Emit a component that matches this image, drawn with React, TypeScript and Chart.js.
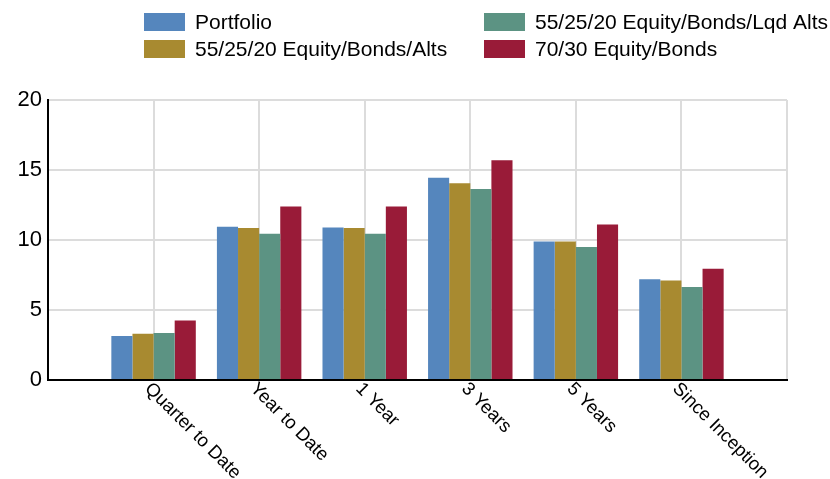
import React, { useEffect, useRef } from "react";
import { Chart, registerables } from "chart.js";

Chart.register(...registerables);

const categories = ["Quarter to Date", "Year to Date", "1 Year", "3 Years", "5 Years", "Since Inception"];
const seriesNames = [
  "Portfolio",
  "55/25/20 Equity/Bonds/Alts",
  "55/25/20 Equity/Bonds/Lqd Alts",
  "70/30 Equity/Bonds",
];
const portfolio = [3.15, 10.95, 10.9, 14.45, 9.9, 7.2];
const equityBondsAlts = [3.3, 10.85, 10.85, 14.05, 9.9, 7.1];
const equityBondsLqdAlts = [3.35, 10.45, 10.45, 13.65, 9.5, 6.65];
const equityBonds7030 = [4.25, 12.4, 12.4, 15.7, 11.1, 7.95];
const yTicks = [0, 5, 10, 15, 20];

const colors = ["#5586BD", "#A88A30", "#5C9383", "#991B38"];
const FONT = "'Liberation Sans', Arial, sans-serif";

const pad = (arr: number[]) => [null, ...arr, null];

const legendPlugin = {
  id: "gridLegend",
  afterDraw(chart: any) {
    const ctx = chart.ctx;
    const cols = [144, 484];
    const rows = [13, 40];
    const boxW = 41;
    const boxH = 18;
    ctx.save();
    ctx.font = `21px ${FONT}`;
    ctx.textBaseline = "middle";
    ctx.textAlign = "left";
    chart.data.datasets.forEach((ds: any, i: number) => {
      const col = Math.floor(i / 2);
      const row = i % 2;
      const x = cols[col];
      const y = rows[row];
      ctx.fillStyle = ds.backgroundColor;
      ctx.fillRect(x, y, boxW, boxH);
      ctx.fillStyle = "#000";
      ctx.fillText(ds.label, x + boxW + 10, y + boxH / 2 + 1);
    });
    ctx.restore();
  },
};

const rotatedLabels = {
  id: "rotatedLabels",
  afterDraw(chart: any) {
    const ctx = chart.ctx;
    const xs = chart.scales.x;
    const bottom = chart.chartArea.bottom;
    ctx.save();
    ctx.font = `18.5px ${FONT}`;
    ctx.fillStyle = "#000";
    ctx.textAlign = "left";
    ctx.textBaseline = "middle";
    (chart.data.labels as string[]).forEach((lab, i) => {
      if (!lab) return;
      const x = xs.getPixelForTick(i);
      ctx.save();
      ctx.translate(x - 6, bottom + 6);
      ctx.rotate(Math.PI / 4);
      ctx.fillText(lab, 0, 0);
      ctx.restore();
    });
    ctx.restore();
  },
};

export default function App() {
  const ref = useRef<HTMLCanvasElement>(null);
  useEffect(() => {
    if (!ref.current) return;
    const values = [portfolio, equityBondsAlts, equityBondsLqdAlts, equityBonds7030];
    const chart = new Chart(ref.current, {
      type: "bar",
      data: {
        labels: ["", ...categories, ""],
        datasets: values.map((v, i) => ({
          label: seriesNames[i],
          data: pad(v),
          backgroundColor: colors[i],
          borderWidth: 0,
          categoryPercentage: 0.8,
          barPercentage: 1.0,
        })),
      },
      options: {
        animation: false,
        responsive: false,
        devicePixelRatio: 1,
        layout: { padding: { top: 100, right: 43, left: 0, bottom: 0 } },
        plugins: { legend: { display: false }, tooltip: { enabled: false } },
        scales: {
          x: {
            type: "category",
            offset: false,
            grid: { color: "#dcdcdc", lineWidth: 2, drawTicks: false, offset: false },
            border: { color: "#000", width: 2 },
            ticks: { display: false },
            afterFit: (s: any) => {
              s.height = 99;
            },
          },
          y: {
            min: 0,
            max: 20,
            afterBuildTicks: (s: any) => {
              s.ticks = yTicks.map((v) => ({ value: v }));
            },
            grid: { color: "#dcdcdc", lineWidth: 2, drawTicks: false },
            border: { color: "#000", width: 2 },
            ticks: {
              color: "#000",
              font: { family: FONT, size: 22 },
              padding: 6,
            },
            afterFit: (s: any) => {
              s.width = 48;
            },
          },
        },
      },
      plugins: [legendPlugin, rotatedLabels],
    });
    return () => chart.destroy();
  }, []);
  return (
    <div style={{ position: "absolute", left: 0, top: 0, width: 830, height: 479, background: "#fff" }}>
      <canvas ref={ref} width={830} height={479} style={{ display: "block" }} />
    </div>
  );
}
